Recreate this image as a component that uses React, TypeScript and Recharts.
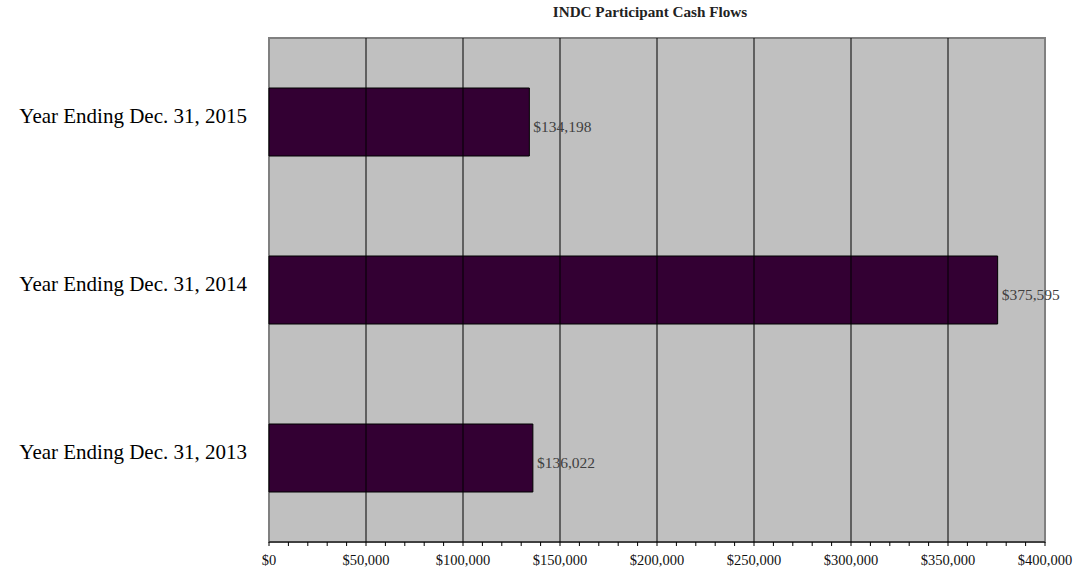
import React from "react";
import { BarChart, Bar, XAxis, YAxis, ReferenceArea, ReferenceLine, LabelList } from "recharts";

const CATEGORIES = ["Year Ending Dec. 31, 2015", "Year Ending Dec. 31, 2014", "Year Ending Dec. 31, 2013"];
const CASH_FLOWS = [134198, 375595, 136022];
const MINOR_TICKS = [
  0, 10000, 20000, 30000, 40000, 50000, 60000, 70000, 80000, 90000, 100000,
  110000, 120000, 130000, 140000, 150000, 160000, 170000, 180000, 190000, 200000,
  210000, 220000, 230000, 240000, 250000, 260000, 270000, 280000, 290000, 300000,
  310000, 320000, 330000, 340000, 350000, 360000, 370000, 380000, 390000, 400000,
];
const GRID_VALUES = [50000, 100000, 150000, 200000, 250000, 300000, 350000];
const TITLE = "INDC Participant Cash Flows";

const data = CATEGORIES.map((c, i) => ({ name: c, value: CASH_FLOWS[i] }));

const FONT = "'Liberation Serif', 'Times New Roman', serif";
const fmt = (v: number) => "$" + v.toLocaleString("en-US");

const XTick = (props: any) => {
  const { x, y, payload } = props;
  const v = payload.value as number;
  if (v % 50000 !== 0) return null;
  return (
    <text x={x} y={y + 17} textAnchor="middle" fontFamily={FONT} fontSize={14.5} fill="#111">
      {fmt(v)}
    </text>
  );
};

const YTick = (props: any) => {
  const { x, y, payload } = props;
  return (
    <text x={x - 14} y={y} dy={1} textAnchor="end" fontFamily={FONT} fontSize={21} fill="#000">
      {payload.value}
    </text>
  );
};

export default function App() {
  return (
    <div style={{ position: "absolute", left: 0, top: 0, width: 1088, height: 572, background: "#fff" }}>
      <div
        style={{
          position: "absolute",
          left: 400,
          width: 500,
          top: 3,
          textAlign: "center",
          fontFamily: FONT,
          fontWeight: "bold",
          fontSize: 15.2,
          color: "#222",
        }}
      >
        {TITLE}
      </div>
      <BarChart
        width={1088}
        height={572}
        data={data}
        layout="vertical"
        margin={{ top: 38, right: 43, bottom: 0, left: 0 }}
      >
        <XAxis
          type="number"
          domain={[0, 400000]}
          ticks={MINOR_TICKS}
          interval={0}
          tick={<XTick />}
          tickSize={4}
          tickLine={{ stroke: "#000" }}
          axisLine={{ stroke: "#000" }}
          height={30}
        />
        <YAxis
          type="category"
          dataKey="name"
          width={269}
          axisLine={false}
          tickLine={false}
          tick={<YTick />}
        />
        <ReferenceArea x1={0} x2={400000} fill="#C0C0C0" fillOpacity={1} stroke="#808080" strokeWidth={2} ifOverflow="extendDomain" />
        {GRID_VALUES.map((g) => (
          <ReferenceLine key={g} x={g} stroke="#000" strokeWidth={1} />
        ))}
        <Bar dataKey="value" fill="#330033" stroke="#000" strokeWidth={1} barSize={68} isAnimationActive={false}>
          <LabelList
            dataKey="value"
            position="right"
            offset={4}
            formatter={(v: any) => fmt(Number(v))}
            content={(p: any) => (
              <text
                x={p.x + p.width + 4}
                y={p.y + p.height / 2 + 10}
                fontFamily={FONT}
                fontSize={15.5}
                fill="#404040"
              >
                {fmt(Number(p.value))}
              </text>
            )}
          />
        </Bar>
      </BarChart>
    </div>
  );
}
